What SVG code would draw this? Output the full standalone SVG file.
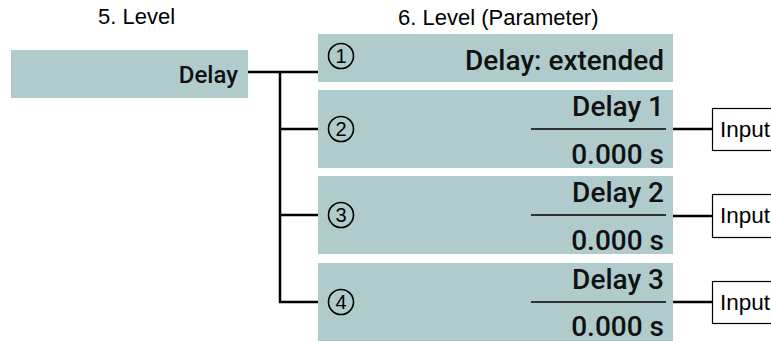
<svg xmlns="http://www.w3.org/2000/svg" width="771" height="342" viewBox="0 0 771 342">
<style>
.box{fill:#b0cbcc}
.hdr{font-family:"Liberation Sans",Arial,sans-serif;font-size:22px;fill:#000}
.lbl{font-family:Roboto,"Noto Sans",sans-serif;font-weight:500;font-size:28px;fill:#111;text-anchor:end}
.lbl5{font-family:Roboto,"Noto Sans",sans-serif;font-weight:500;font-size:24px;fill:#111;text-anchor:end}
.conn{stroke:#000;stroke-width:2.5;fill:none}
.div{stroke:#000;stroke-width:1.5}
.num circle{fill:none;stroke:#000;stroke-width:1.6}
.num text{font-family:"Liberation Sans",Arial,sans-serif;font-size:20px;text-anchor:middle;fill:#000}
.inp rect{fill:#fff;stroke:#000;stroke-width:1.2}
.inp text{font-family:"Liberation Sans",Arial,sans-serif;font-size:22.5px;fill:#000}
</style>
<text class="hdr" x="98" y="24">5. Level</text>
<text class="hdr" x="398" y="25">6. Level (Parameter)</text>
<g id="connectors">
<path class="conn" d="M248,72 H318 M280,72 V302 H318 M280,129 H318 M280,215 H318"/>
<path class="conn" d="M673,129 H713 M673,216 H713 M673,302 H713"/>
</g>
<g id="delay">
<rect class="box" x="11" y="50" width="237" height="48"/>
<text class="lbl5" x="238" y="83">Delay</text>
</g>
<g id="p1">
<rect class="box" x="318" y="34" width="355" height="48"/>
<g class="num"><circle cx="341" cy="56" r="12.5"/><text x="341" y="63">1</text></g>
<text class="lbl" x="664" y="70">Delay: extended</text>
</g>
<g id="p2">
<rect class="box" x="318" y="90" width="355" height="78"/>
<g class="num"><circle cx="341" cy="129" r="12.5"/><text x="341" y="136">2</text></g>
<text class="lbl" x="664" y="116">Delay 1</text>
<line class="div" x1="531" y1="129" x2="666" y2="129"/>
<text class="lbl" x="664" y="164">0.000 s</text>
</g>
<g id="p3">
<rect class="box" x="318" y="176" width="355" height="78"/>
<g class="num"><circle cx="341" cy="215" r="12.5"/><text x="341" y="222">3</text></g>
<text class="lbl" x="664" y="202">Delay 2</text>
<line class="div" x1="531" y1="215" x2="666" y2="215"/>
<text class="lbl" x="664" y="250">0.000 s</text>
</g>
<g id="p4">
<rect class="box" x="318" y="263" width="355" height="78"/>
<g class="num"><circle cx="341" cy="302" r="12.5"/><text x="341" y="309">4</text></g>
<text class="lbl" x="664" y="289">Delay 3</text>
<line class="div" x1="531" y1="302" x2="666" y2="302"/>
<text class="lbl" x="664" y="336">0.000 s</text>
</g>
<g id="in1" class="inp"><rect x="712.5" y="108.5" width="80" height="42"/><text x="720" y="137">Input</text></g>
<g id="in2" class="inp"><rect x="712.5" y="194.5" width="80" height="43"/><text x="720" y="223">Input</text></g>
<g id="in3" class="inp"><rect x="712.5" y="281.5" width="80" height="42"/><text x="720" y="310">Input</text></g>
</svg>
